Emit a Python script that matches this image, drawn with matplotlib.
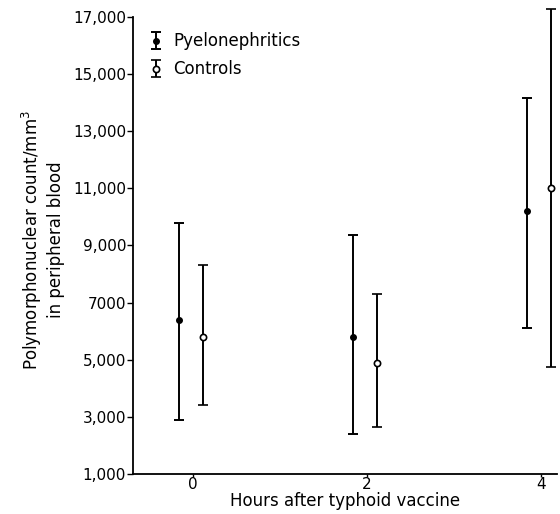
import numpy as np
import matplotlib.pyplot as plt

# values (count/mm3)
hours = np.array([0, 2, 4])
pyelo_mean = np.array([6400, 5800, 10200])
pyelo_low = np.array([2900, 2400, 6100])
pyelo_high = np.array([9800, 9350, 14150])
ctrl_mean = np.array([5800, 4900, 11000])
ctrl_low = np.array([3400, 2650, 4750])
ctrl_high = np.array([8300, 7300, 17300])

ytick_vals = [1000, 3000, 5000, 7000, 9000, 11000, 13000, 15000, 17000]
ytick_labels = ["1,000", "3,000", "5,000", "7000", "9,000", "11,000", "13,000", "15,000", "17,000"]

plt.rcParams['font.family'] = ['DejaVu Sans']
fig = plt.figure(figsize=(5.6, 5.14), dpi=100)
ax = fig.add_axes([0.2375, 0.078, 0.757, 0.911])

shift = 0.16
e1 = ax.errorbar(hours - shift, pyelo_mean,
                 yerr=[pyelo_mean - pyelo_low, pyelo_high - pyelo_mean],
                 fmt="o", color="black", ms=4, elinewidth=1.4, capsize=3.5, capthick=1.4,
                 label="Pyelonephritics", clip_on=False)
e2 = ax.errorbar(hours + shift * 0.7, ctrl_mean,
                 yerr=[ctrl_mean - ctrl_low, ctrl_high - ctrl_mean],
                 fmt="o", color="black", mfc="white", mec="black", mew=1.2, ms=4.5,
                 elinewidth=1.4, capsize=3.5, capthick=1.4,
                 label="Controls", clip_on=False)

ax.set_xlim(-0.69, 4.18)
ax.set_ylim(1000, 17400)
ax.spines["top"].set_visible(False)
ax.spines["right"].set_visible(False)
ax.spines["left"].set_bounds(1000, 17000)
ax.spines["left"].set_linewidth(1.3)
ax.spines["bottom"].set_linewidth(1.3)
ax.set_yticks(ytick_vals)
ax.set_yticklabels(ytick_labels, fontsize=11)
ax.set_xticks(hours)
ax.set_xticklabels([str(h) for h in hours], fontsize=11)
ax.tick_params(axis="y", direction="out", length=4, width=1, pad=1)
ax.tick_params(axis="x", direction="out", length=2, width=1, pad=0)

ax.set_xlabel("Hours after typhoid vaccine", fontsize=12, labelpad=0)
ax.set_ylabel("Polymorphonuclear count/mm$^3$\nin peripheral blood", fontsize=12, labelpad=6)

ax.legend(loc="upper left", bbox_to_anchor=(0.0, 0.975), frameon=False, fontsize=12,
          handlelength=1.0, handletextpad=0.5, labelspacing=0.6)

fig.savefig("out.png", dpi=100)
